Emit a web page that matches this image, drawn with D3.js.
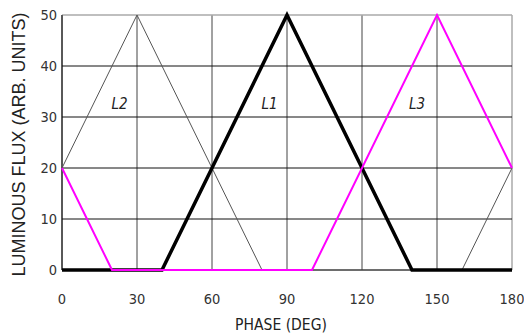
<!DOCTYPE html>
<html>
<head>
<meta charset="utf-8">
<script src="https://cdn.jsdelivr.net/npm/d3@7"></script>
<style>
  body { margin: 0; background: #fff; }
  text { font-family: "Liberation Sans Narrow", "DejaVu Sans Condensed", "Liberation Sans", sans-serif; }
</style>
</head>
<body>
<div id="chart"></div>
<script>
// phase (deg) / flux values for each lamp
const phaseL1 = [0, 40, 90, 140, 180];
const fluxL1 = [0, 0, 50, 0, 0];
const phaseL2 = [0, 30, 80, 160, 180];
const fluxL2 = [20, 50, 0, 0, 20];
const phaseL3 = [0, 20, 100, 150, 180];
const fluxL3 = [20, 0, 0, 50, 20];
const xTicks = [0, 30, 60, 90, 120, 150, 180];
const yTicks = [0, 10, 20, 30, 40, 50];
const labels = [
    { name: "L2", x: 23, y: 31.5 },
    { name: "L1", x: 83, y: 31.5 },
    { name: "L3", x: 142, y: 31.5 }
];

const width = 524, height = 336;
const margin = { top: 15, right: 12, bottom: 66, left: 62 };

const svg = d3.select("#chart").append("svg")
    .attr("width", width)
    .attr("height", height);

const x = d3.scaleLinear().domain([0, 180]).range([margin.left, width - margin.right]);
const y = d3.scaleLinear().domain([0, 50]).range([height - margin.bottom, margin.top]);

// grid
svg.append("g").selectAll("line")
    .data(xTicks)
    .enter().append("line")
    .attr("x1", d => x(d)).attr("x2", d => x(d))
    .attr("y1", y(0)).attr("y2", y(50))
    .attr("stroke", d => d === 180 ? "#aaa" : "#444")
    .attr("stroke-width", d => d === 180 ? 1.5 : 1);

svg.append("g").selectAll("line")
    .data(yTicks)
    .enter().append("line")
    .attr("x1", x(0)).attr("x2", x(180))
    .attr("y1", d => y(d)).attr("y2", d => y(d))
    .attr("stroke", d => d === 50 ? "#aaa" : "#111")
    .attr("stroke-width", d => d === 50 ? 1.5 : 1);

svg.append("line")
    .attr("x1", x(0)).attr("x2", x(0))
    .attr("y1", y(0)).attr("y2", y(50))
    .attr("stroke", "#111");

// tick labels
svg.append("g").selectAll("text")
    .data(xTicks)
    .enter().append("text")
    .attr("x", d => x(d))
    .attr("y", y(0) + 34)
    .attr("text-anchor", "middle")
    .attr("font-size", 14.5)
    .attr("fill", "#333")
    .text(d => d);

svg.append("g").selectAll("text")
    .data(yTicks)
    .enter().append("text")
    .attr("x", x(0) - 5)
    .attr("y", d => y(d) + 5)
    .attr("text-anchor", "end")
    .attr("font-size", 14.5)
    .attr("fill", "#333")
    .text(d => d);

// axis titles
svg.append("text")
    .attr("x", (x(0) + x(180)) / 2 - 6)
    .attr("y", height - 6)
    .attr("text-anchor", "middle")
    .attr("font-size", 15.5)
    .attr("fill", "#222")
    .text("PHASE (DEG)");

svg.append("text")
    .attr("transform", `translate(25,${(y(0) + y(50)) / 2 + 2}) rotate(-90)`)
    .attr("text-anchor", "middle")
    .attr("font-size", 18)
    .attr("fill", "#222")
    .style("font-family", "'Liberation Sans', Arial, sans-serif")
    .text("LUMINOUS FLUX (ARB. UNITS)");

const line = d3.line().x(d => x(d[0])).y(d => y(d[1]));

svg.append("path")
    .datum(d3.zip(phaseL2, fluxL2))
    .attr("d", line)
    .attr("fill", "none")
    .attr("stroke", "#555")
    .attr("stroke-width", 1);

svg.append("path")
    .datum(d3.zip(phaseL1, fluxL1))
    .attr("d", line)
    .attr("fill", "none")
    .attr("stroke", "#000")
    .attr("stroke-width", 3.5);

svg.append("path")
    .datum(d3.zip(phaseL3, fluxL3))
    .attr("d", line)
    .attr("fill", "none")
    .attr("stroke", "#ff00ff")
    .attr("stroke-width", 2);

svg.append("g").selectAll("text")
    .data(labels)
    .enter().append("text")
    .attr("x", d => x(d.x))
    .attr("y", d => y(d.y))
    .attr("text-anchor", "middle")
    .attr("font-size", 15)
    .attr("font-style", "italic")
    .attr("fill", "#222")
    .text(d => d.name);
</script>
</body>
</html>
